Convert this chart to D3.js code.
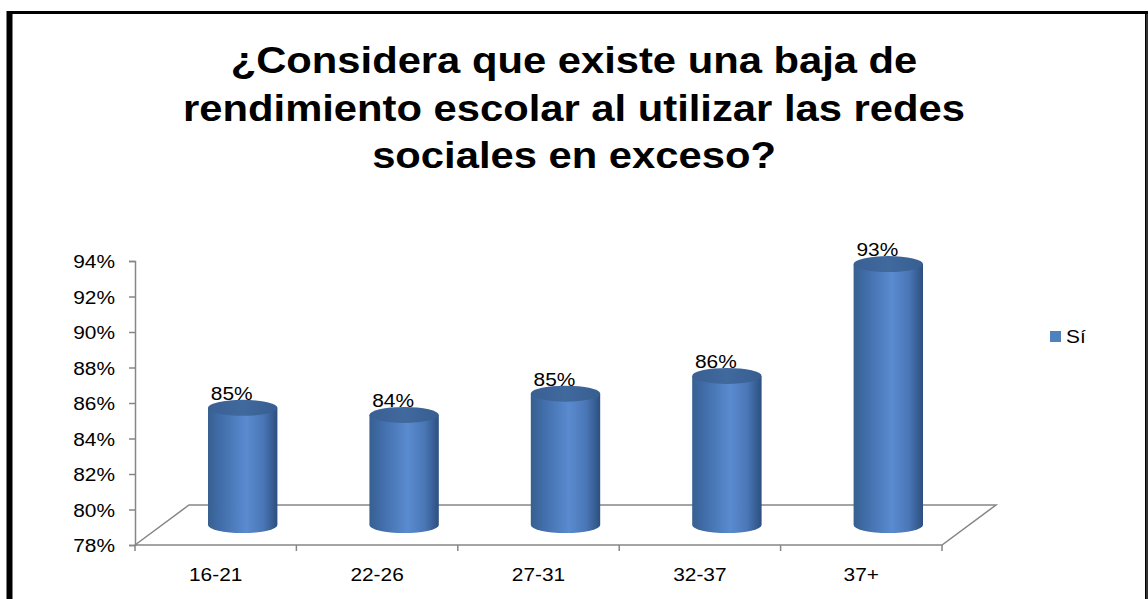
<!DOCTYPE html>
<html>
<head>
<meta charset="utf-8">
<script src="https://cdn.jsdelivr.net/npm/d3@7"></script>
<style>
  body { margin: 0; background: #fff; }
  text { font-family: "Liberation Sans", Arial, sans-serif; fill: #000; }
</style>
</head>
<body>
<svg id="chart" width="1148" height="599"></svg>
<script>
const categories = ["16-21", "22-26", "27-31", "32-37", "37+"];
const values = [84.6, 84.2, 85.4, 86.4, 92.7];
const valueLabels = ["85%", "84%", "85%", "86%", "93%"];
const yTicks = [78, 80, 82, 84, 86, 88, 90, 92, 94];
const titleLines = ["¿Considera que existe una baja de", "rendimiento escolar al utilizar las redes", "sociales en exceso?"];
const seriesName = "Sí";

const svg = d3.select("#chart");
const sx = 1.16; // the picture is a bit wider than tall, text is stretched

// places a text at (px,py) with the horizontal stretch
const place = (px, py) => `translate(${px},${py}) scale(${sx},1)`;

// frame
svg.append("rect").attr("x", 9.5).attr("y", 12.5).attr("width", 1137).attr("height", 600)
    .attr("fill", "none").attr("stroke", "#000").attr("stroke-width", 3);
svg.append("line").attr("x1", 9.5).attr("x2", 9.5).attr("y1", 11).attr("y2", 599)
    .attr("stroke", "#000").attr("stroke-width", 6);
svg.append("line").attr("x1", 1147).attr("x2", 1147).attr("y1", 14).attr("y2", 599)
    .attr("stroke", "#444").attr("stroke-width", 1.5);

// title
svg.append("g").selectAll("text")
    .data(titleLines)
    .join("text")
    .attr("transform", (d, i) => place(574, 73 + i * 47.5))
    .attr("text-anchor", "middle")
    .style("font-size", "36px")
    .style("font-weight", "bold")
    .text(d => d);

const left = 135, right = 942, floorY = 545;
const depth = {dx: 54, dy: -40};

const x = d3.scaleBand().domain(categories).range([left, right]);
const y = d3.scaleLinear().domain([78, 94]).range([floorY, 261]);

const axisColor = "#868686";

// floor
const floor = d3.path();
floor.moveTo(left, floorY);
floor.lineTo(left + depth.dx, floorY + depth.dy);
floor.lineTo(right + depth.dx, floorY + depth.dy);
floor.lineTo(right, floorY);
floor.closePath();
svg.append("path").attr("d", floor.toString())
    .attr("fill", "none").attr("stroke", axisColor).attr("stroke-width", 1.5);

// y axis
const yAxis = svg.append("g")
    .attr("transform", `translate(${left},0)`)
    .call(d3.axisLeft(y).tickValues(yTicks).tickSize(6).tickFormat(""));
yAxis.select(".domain").attr("stroke", axisColor).attr("stroke-width", 1.5);
yAxis.selectAll(".tick line").attr("stroke", axisColor).attr("stroke-width", 1.5);

svg.append("g").selectAll("text")
    .data(yTicks)
    .join("text")
    .attr("transform", d => place(115, y(d) + 7))
    .attr("text-anchor", "end")
    .style("font-size", "18px")
    .text(d => d + "%");

// x axis
svg.append("g").selectAll("line")
    .data(categories.map(c => x(c)).concat([right]))
    .join("line")
    .attr("x1", d => d).attr("x2", d => d)
    .attr("y1", floorY).attr("y2", floorY + 6)
    .attr("stroke", axisColor).attr("stroke-width", 1.5);

svg.append("g").selectAll("text")
    .data(categories)
    .join("text")
    .attr("transform", d => place(x(d) + x.bandwidth() / 2, 581))
    .attr("text-anchor", "middle")
    .style("font-size", "18px")
    .text(d => d);

// gradients
const defs = svg.append("defs");
const bodyGrad = defs.append("linearGradient").attr("id", "body").attr("x1", "0%").attr("x2", "100%");
[["0%", "#37608f"], ["15%", "#3f6ba6"], ["55%", "#5a8bd0"], ["80%", "#4a76b6"], ["100%", "#2c4f7f"]]
    .forEach(s => bodyGrad.append("stop").attr("offset", s[0]).attr("stop-color", s[1]));
const topGrad = defs.append("linearGradient").attr("id", "top").attr("x1", "0%").attr("x2", "100%");
[["0%", "#3a6093"], ["50%", "#40699e"], ["100%", "#385e90"]]
    .forEach(s => topGrad.append("stop").attr("offset", s[0]).attr("stop-color", s[1]));

// cylinders
const rx = x.bandwidth() * 0.215, ry = 8;
const cx = c => x(c) + x.bandwidth() / 2 + depth.dx / 2;
const baseY = y(78) + depth.dy / 2;

const bars = svg.append("g").selectAll("g")
    .data(categories.map((c, i) => ({c, v: values[i], label: valueLabels[i]})))
    .join("g");

bars.append("path")
    .attr("d", d => {
        const cxx = cx(d.c), top = y(d.v) + depth.dy / 2;
        return `M${cxx - rx},${top} L${cxx - rx},${baseY} A${rx},${ry} 0 0 0 ${cxx + rx},${baseY} L${cxx + rx},${top} Z`;
    })
    .attr("fill", "url(#body)");

bars.append("ellipse")
    .attr("cx", d => cx(d.c))
    .attr("cy", d => y(d.v) + depth.dy / 2)
    .attr("rx", rx).attr("ry", ry)
    .attr("fill", "url(#top)");

bars.append("text")
    .attr("transform", d => place(cx(d.c) - 11, y(d.v) + depth.dy / 2 - 8))
    .attr("text-anchor", "middle")
    .style("font-size", "18px")
    .text(d => d.label);

// legend
svg.append("rect").attr("x", 1050).attr("y", 331).attr("width", 11).attr("height", 11).attr("fill", "#4f81bd");
svg.append("text").attr("transform", place(1066, 343)).style("font-size", "18px").text(seriesName);
</script>
</body>
</html>
